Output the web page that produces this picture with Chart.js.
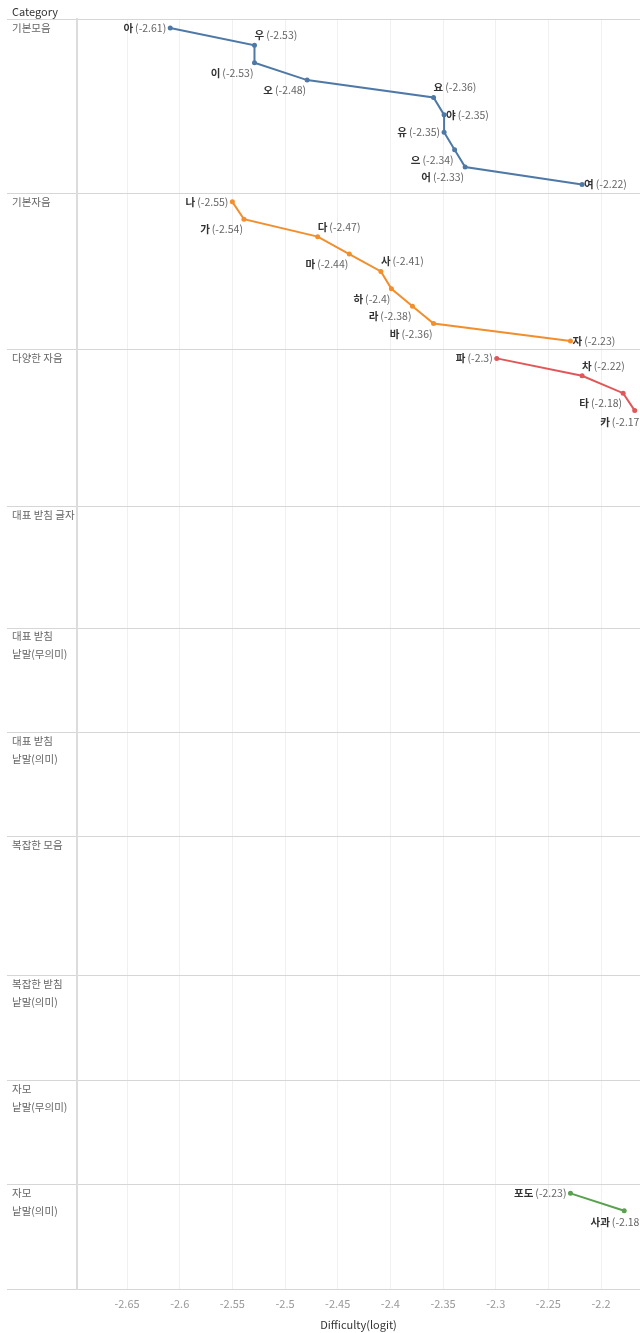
<!DOCTYPE html>
<html>
<head>
<meta charset="utf-8">
<script src="https://cdn.jsdelivr.net/npm/chart.js@4.4.0/dist/chart.umd.min.js"></script>
<style>
  body { margin: 0; background: #fff; }
  #wrap { width: 640px; height: 1333px; position: relative; }
</style>
</head>
<body>
<div id="wrap"><canvas id="chart"></canvas></div>
<script>
const FONT = '"Noto Sans CJK KR", "Noto Sans", sans-serif';

const categoryNames = [
  ['기본모음'], ['기본자음'], ['다양한 자음'], ['대표 받침 글자'],
  ['대표 받침', '낱말(무의미)'], ['대표 받침', '낱말(의미)'], ['복잡한 모음'],
  ['복잡한 받침', '낱말(의미)'], ['자모', '낱말(무의미)'], ['자모', '낱말(의미)']
];
// number of item rows in each category (empty ones still take space)
const categoryRows = [10, 9, 9, 7, 6, 6, 8, 6, 6, 6];
const xTicks = [-2.65, -2.6, -2.55, -2.5, -2.45, -2.4, -2.35, -2.3, -2.25, -2.2];

const vowelNames = ['아', '우', '이', '오', '요', '야', '유', '으', '어', '여'];
const vowelValues = [-2.609, -2.529, -2.529, -2.479, -2.359, -2.349, -2.349, -2.339, -2.329, -2.218];
const consonantNames = ['나', '가', '다', '마', '사', '하', '라', '바', '자'];
const consonantValues = [-2.55, -2.539, -2.469, -2.439, -2.409, -2.399, -2.379, -2.359, -2.229];
const variedNames = ['파', '차', '타', '카'];
const variedValues = [-2.299, -2.218, -2.179, -2.168];
const wordNames = ['포도', '사과'];
const wordValues = [-2.229, -2.178];

// label placement per point: L left, R right, TR above-right, BL below-left, BC below
const vowelPlaces = ['L', 'TR', 'BL', 'BL', 'TR', 'R', 'L', 'BL', 'BL', 'R'];
const consonantPlaces = ['L', 'BL', 'TR', 'BL', 'TR', 'BL', 'BL', 'BL', 'R'];
const variedPlaces = ['L', 'TR', 'BL', 'BC'];
const wordPlaces = ['L', 'BC'];

const rowStarts = [];
let acc = 0;
categoryRows.forEach(n => { rowStarts.push(acc); acc += n; });
const rowBounds = rowStarts.concat([acc]);

function makeSeries(cat, names, values, places, color) {
  return {
    names: names,
    places: places,
    data: values.map((v, i) => ({ x: v, y: rowStarts[cat] + i + 0.5 })),
    showLine: true,
    borderColor: color,
    backgroundColor: color,
    borderWidth: 2,
    pointRadius: 2.5,
    pointBorderWidth: 0,
    tension: 0,
    clip: false
  };
}

const pointLabels = {
  id: 'pointLabels',
  afterDatasetsDraw(chart) {
    const ctx = chart.ctx;
    const right = chart.chartArea.right;
    ctx.save();
    ctx.textBaseline = 'middle';
    ctx.textAlign = 'left';
    chart.data.datasets.forEach((ds, di) => {
      const meta = chart.getDatasetMeta(di);
      meta.data.forEach((pt, i) => {
        const name = ds.names[i];
        const val = '(' + (+ds.data[i].x.toFixed(2)) + ')';
        ctx.font = 'bold 10.5px ' + FONT;
        const wn = ctx.measureText(name).width;
        ctx.font = '10.5px ' + FONT;
        const wv = ctx.measureText(val).width;
        const w = wn + 2 + wv;
        let x = pt.x, y = pt.y;
        switch (ds.places[i]) {
          case 'L': x = pt.x - 4 - w; break;
          case 'R': x = pt.x + 2; break;
          case 'TR': x = pt.x; y = pt.y - 10; break;
          case 'BL': x = pt.x - 1 - w; y = pt.y + 10; break;
          case 'BC': x = Math.min(pt.x - w / 2, right + 3 - w); y = pt.y + 11; break;
        }
        ctx.font = 'bold 10.5px ' + FONT;
        ctx.fillStyle = '#333';
        ctx.fillText(name, x, y);
        ctx.font = '10.5px ' + FONT;
        ctx.fillStyle = '#666';
        ctx.fillText(val, x + wn + 2, y);
      });
    });
    ctx.restore();
  }
};

new Chart(document.getElementById('chart'), {
  type: 'scatter',
  data: {
    datasets: [
      makeSeries(0, vowelNames, vowelValues, vowelPlaces, '#4e79a7'),
      makeSeries(1, consonantNames, consonantValues, consonantPlaces, '#f28e2b'),
      makeSeries(2, variedNames, variedValues, variedPlaces, '#e15759'),
      makeSeries(9, wordNames, wordValues, wordPlaces, '#59a14f')
    ]
  },
  options: {
    responsive: true,
    maintainAspectRatio: false,
    animation: false,
    layout: { autoPadding: false, padding: { left: 12, right: 0, top: 0, bottom: 0 } },
    plugins: {
      legend: { display: false },
      tooltip: { enabled: false },
      title: {
        display: true,
        text: 'Category',
        align: 'start',
        color: '#333',
        font: { family: FONT, size: 11, weight: 'normal' },
        padding: { top: 5, bottom: 1 }
      }
    },
    scales: {
      x: {
        type: 'linear',
        min: -2.6975,
        max: -2.163,
        afterBuildTicks: (scale) => { scale.ticks = xTicks.map(v => ({ value: v })); },
        afterFit: (scale) => {
          scale.height = 44;
          scale.paddingLeft = 0;
          scale.paddingRight = 0;
        },
        grid: { color: '#f0f0f0', drawTicks: false },
        border: { display: false },
        ticks: {
          color: '#999',
          padding: 8,
          font: { family: FONT, size: 11 },
          callback: (v) => String(+v.toFixed(2))
        },
        title: {
          display: true,
          text: 'Difficulty(logit)',
          color: '#333',
          font: { family: FONT, size: 11 },
          padding: { top: 0, bottom: 2 }
        }
      },
      y: {
        type: 'linear',
        reverse: true,
        min: 0,
        max: acc,
        afterBuildTicks: (scale) => { scale.ticks = rowBounds.map(v => ({ value: v })); },
        afterFit: (scale) => {
          scale.width = 65;
          scale.paddingTop = 0;
          scale.paddingBottom = 0;
        },
        grid: { color: '#d6d6d6', tickLength: 70, tickColor: '#d6d6d6' },
        border: { display: true, color: '#dcdcdc', width: 2 },
        ticks: {
          autoSkip: false,
          crossAlign: 'far',
          labelOffset: 17.5,
          color: '#666',
          font: { family: FONT, size: 10.5, lineHeight: '18px' },
          callback: (v) => {
            const idx = rowBounds.indexOf(v);
            const lines = idx >= 0 && idx < categoryNames.length ? categoryNames[idx] : [''];
            return lines.length === 1 ? [lines[0], ''] : lines;
          }
        }
      }
    }
  },
  plugins: [pointLabels]
});
</script>
</body>
</html>
